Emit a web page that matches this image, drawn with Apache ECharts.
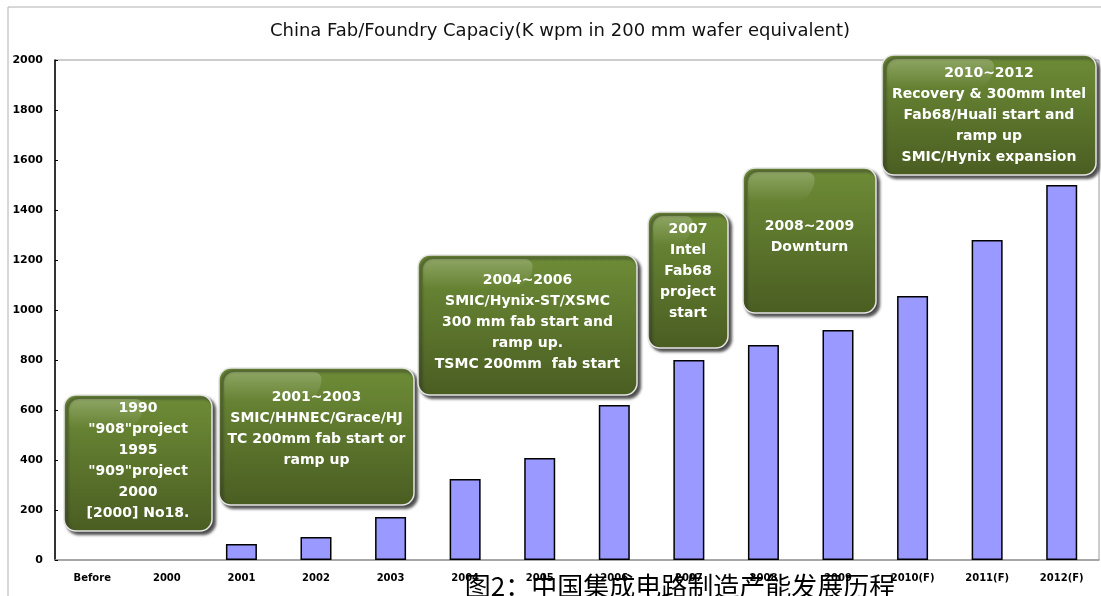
<!DOCTYPE html>
<html>
<head>
<meta charset="utf-8">
<script src="https://cdn.jsdelivr.net/npm/echarts@6/dist/echarts.min.js"></script>
<style>html,body{margin:0;padding:0;background:#fff}#c{width:1101px;height:596px}</style>
</head>
<body>
<div id="c"></div>
<script>
// ---- data ----
var categories = ['Before','2000','2001','2002','2003','2004','2005','2006','2007','2008','2009','2010(F)','2011(F)','2012(F)'];
var capacity = [null, null, 64, 92, 172, 324, 408, 620, 800, 860, 920, 1056, 1280, 1500];
var titleText = 'China Fab/Foundry Capaciy(K wpm in 200 mm wafer equivalent)';
var captionText = '图2：中国集成电路制造产能发展历程';
var note1 = ['1990', '"908"project', '1995', '"909"project', '2000', '[2000] No18.'];
var note2 = ['2001~2003', 'SMIC/HHNEC/Grace/HJ', 'TC 200mm fab start or', 'ramp up'];
var note3 = ['2004~2006', 'SMIC/Hynix-ST/XSMC', '300 mm fab start and', 'ramp up.', 'TSMC 200mm  fab start'];
var note4 = ['2007', 'Intel', 'Fab68', 'project', 'start'];
var note5 = ['2008~2009', 'Downturn'];
var note6 = ['2010~2012', 'Recovery & 300mm Intel', 'Fab68/Huali start and', 'ramp up', 'SMIC/Hynix expansion'];

// ---- annotation box builder ----
function noteBox(x, y, w, h, lines, textCY) {
  var lh = 21;
  return {
    type: 'group', x: x, y: y, z: 50,
    children: [
      { type: 'rect', shape: { x: 0, y: 0, width: w, height: h, r: 12 },
        style: {
          fill: { type: 'linear', x: 0, y: 0, x2: 0, y2: 1, colorStops: [
            { offset: 0, color: '#6e8d37' }, { offset: 1, color: '#4a5d22' } ] },
          stroke: '#e6e6e6', lineWidth: 1.5,
          shadowBlur: 3, shadowColor: 'rgba(40,40,40,0.85)', shadowOffsetX: 3, shadowOffsetY: 3
        } },
      { type: 'rect', shape: { x: 5, y: 4, width: w * 0.5, height: Math.min(30, h * 0.28), r: [10, 10, 30, 4] },
        style: { fill: { type: 'linear', x: 0, y: 0, x2: 0, y2: 1, colorStops: [
          { offset: 0, color: 'rgba(255,255,255,0.22)' }, { offset: 1, color: 'rgba(255,255,255,0)' } ] } } },
      { type: 'text', x: w / 2, y: textCY - y,
        style: { text: lines.join('\n'), fill: '#ffffff', font: 'bold 14px "DejaVu Sans"',
          align: 'center', verticalAlign: 'middle', lineHeight: lh } }
    ]
  };
}

var chart = echarts.init(document.getElementById('c'), null, { renderer: 'canvas' });
chart.setOption({
  animation: false,
  backgroundColor: '#ffffff',
  title: {
    text: titleText, left: 555, top: 17, textAlign: 'center',
    textStyle: { fontFamily: 'DejaVu Sans', fontSize: 18, fontWeight: 'normal', color: '#111' }
  },
  grid: { left: 55, right: 2, top: 60, bottom: 36, show: true, borderColor: '#9a9a9a', borderWidth: 1, backgroundColor: 'transparent' },
  xAxis: {
    type: 'category', data: categories,
    axisLine: { lineStyle: { color: '#9a9a9a', width: 1.5 } },
    axisTick: { show: false },
    axisLabel: { color: '#000', fontFamily: 'DejaVu Sans', fontWeight: 'bold', fontSize: 10, margin: 13, interval: 0 }
  },
  yAxis: {
    type: 'value', min: 0, max: 2000, interval: 200,
    axisLine: { show: true, lineStyle: { color: '#000', width: 1.5 } },
    axisTick: { show: true, inside: true, length: 3, lineStyle: { color: '#000' } },
    splitLine: { show: false },
    axisLabel: { color: '#000', fontFamily: 'DejaVu Sans', fontWeight: 'bold', fontSize: 11, margin: 12,
      formatter: function (v) { return String(v); } }
  },
  series: [{
    type: 'bar', data: capacity, barWidth: 31,
    itemStyle: { color: '#9999ff', borderColor: '#000', borderWidth: 1.5 }
  }],
  graphic: [
    { type: 'rect', z: -1, silent: true, shape: { x: 8, y: 7, width: 1200, height: 700 },
      style: { fill: 'none', stroke: '#b0b0b0', lineWidth: 1 } },
    noteBox(64, 395, 148, 136, note1, 461),
    noteBox(219, 368, 195, 137, note2, 429),
    noteBox(418, 255, 219, 140, note3, 322),
    noteBox(648, 212, 80, 136, note4, 271),
    noteBox(743, 168, 133, 145, note5, 237),
    noteBox(882, 55, 214, 120, note6, 115),
    { type: 'text', z: 100, x: 680, y: 573,
      style: { text: captionText, fill: '#000', font: '26px "Noto Sans CJK SC"', align: 'center', verticalAlign: 'top' } }
  ]
});
</script>
</body>
</html>
